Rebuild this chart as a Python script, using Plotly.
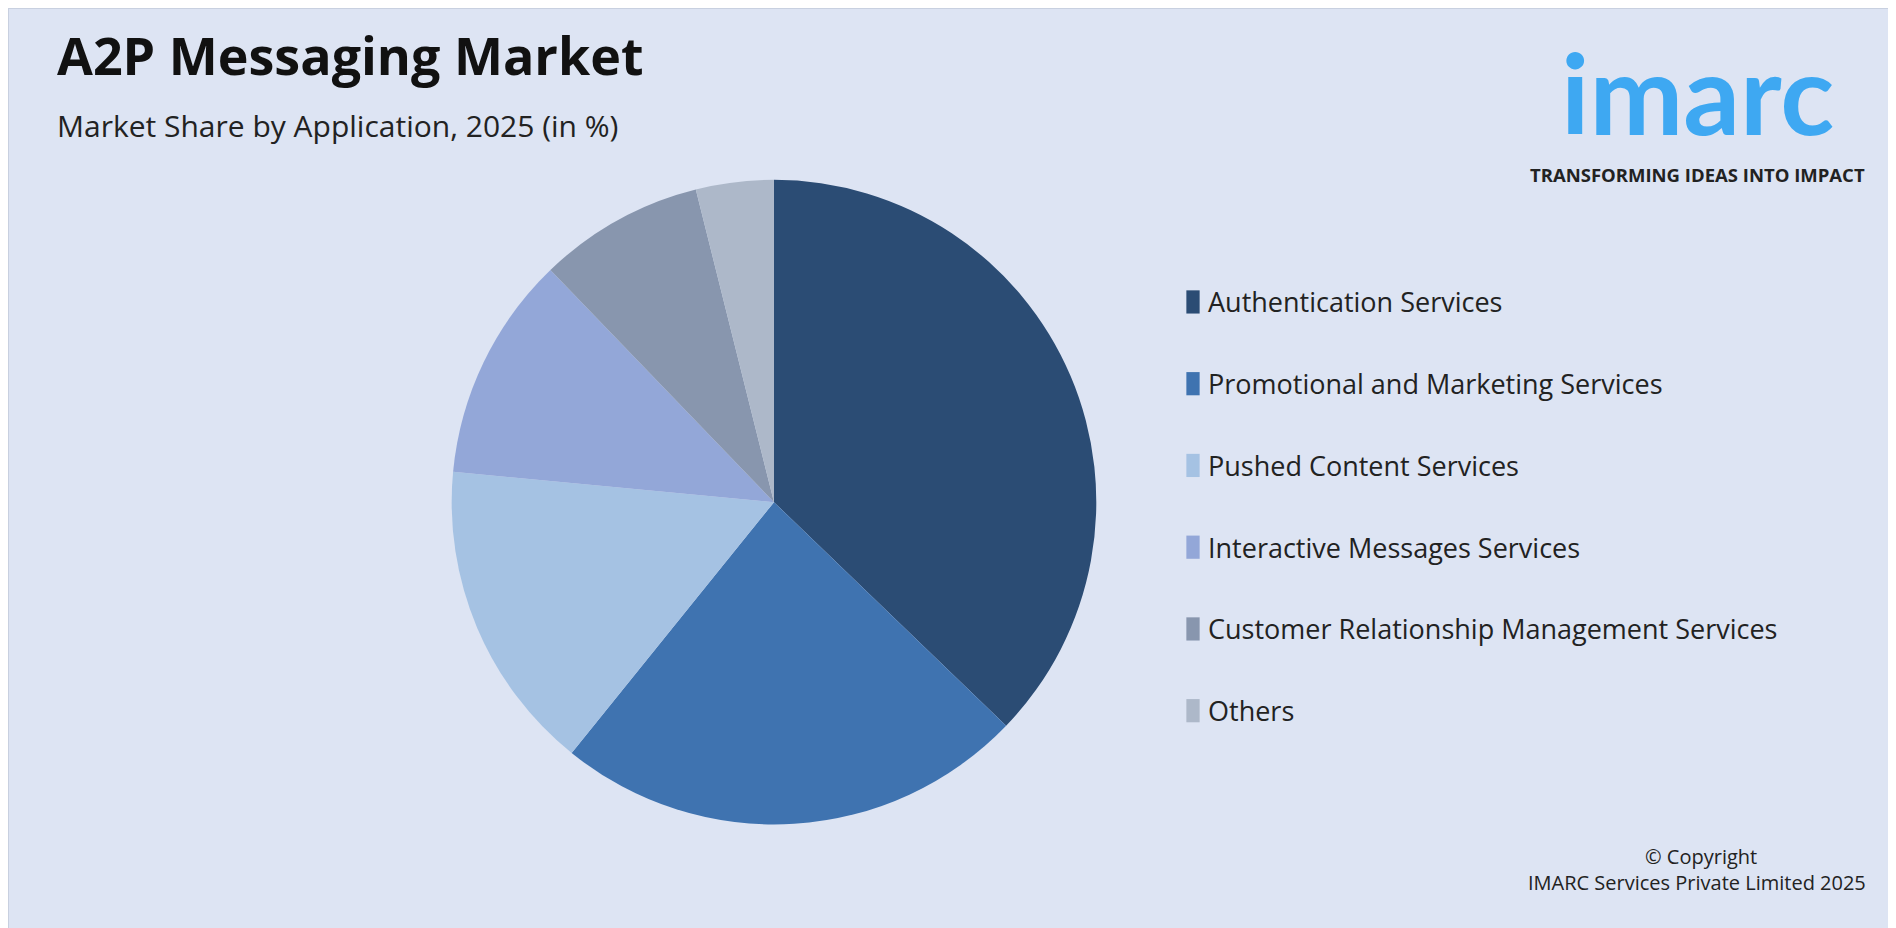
import plotly.graph_objects as go

labels = ['Authentication Services', 'Promotional and Marketing Services', 'Pushed Content Services',
          'Interactive Messages Services', 'Customer Relationship Management Services', 'Others']
shares = [37.2, 23.6, 15.7, 11.3, 8.3, 3.9]
colors = ['#2b4c74', '#3f73b0', '#a5c2e3', '#93a7d8', '#8896ae', '#adb8c9']

fig = go.Figure()
fig.add_trace(go.Pie(
    labels=labels, values=shares, sort=False, direction='clockwise', rotation=0,
    marker=dict(colors=colors, line=dict(width=0)),
    textinfo='none', hoverinfo='label+percent',
    domain=dict(x=[0.234, 0.574], y=[0.1175, 0.8175]),
    showlegend=False,
))

# legend drawn as squares + labels, one row per category
annotations = []
shapes = []
y0 = 1 - 242 / 764
step = 67.3 / 764
for i, (lab, col) in enumerate(zip(labels, colors)):
    y = y0 - i * step
    shapes.append(dict(type='rect', xref='paper', yref='paper',
                       x0=0.6215, x1=0.6285, y0=y - 0.0125, y1=y + 0.0125,
                       fillcolor=col, line=dict(width=0)))
    annotations.append(dict(x=0.632, y=y, xref='paper', yref='paper', text=lab,
                            showarrow=False, xanchor='left', yanchor='middle',
                            font=dict(size=27, color='#222', family='Open Sans')))

annotations += [
    dict(x=0.025, y=0.99, xref='paper', yref='paper', text='<b>A2P Messaging Market</b>',
         showarrow=False, xanchor='left', yanchor='top',
         font=dict(size=52, color='#111', family='Open Sans')),
    dict(x=0.025, y=0.873, xref='paper', yref='paper', text='Market Share by Application, 2025 (in %)',
         showarrow=False, xanchor='left', yanchor='middle',
         font=dict(size=30, color='#222', family='Open Sans')),
    dict(x=0.891, y=0.91, xref='paper', yref='paper', text='<b>imarc</b>',
         showarrow=False, xanchor='center', yanchor='middle',
         font=dict(size=112, color='#3ea8f2', family='Lato')),
    dict(x=0.891, y=0.821, xref='paper', yref='paper', text='<b>TRANSFORMING IDEAS INTO IMPACT</b>',
         showarrow=False, xanchor='center', yanchor='middle',
         font=dict(size=18.5, color='#222', family='Open Sans')),
    dict(x=0.893, y=0.086, xref='paper', yref='paper', text='© Copyright',
         showarrow=False, xanchor='center', yanchor='middle',
         font=dict(size=20, color='#222', family='Open Sans')),
    dict(x=0.981, y=0.058, xref='paper', yref='paper', text='IMARC Services Private Limited 2025',
         showarrow=False, xanchor='right', yanchor='middle',
         font=dict(size=20, color='#222', family='Open Sans')),
]

shapes.append(dict(type='rect', xref='paper', yref='paper', x0=0, x1=1, y0=0, y1=1,
                   line=dict(color='#c8d0e0', width=2), layer='below'))

fig.update_layout(
    width=1896, height=928,
    margin=dict(l=0, r=0, t=0, b=0),
    paper_bgcolor='#dde4f3', plot_bgcolor='#dde4f3',
    annotations=annotations, shapes=shapes,
)

fig.write_html('out.html')
